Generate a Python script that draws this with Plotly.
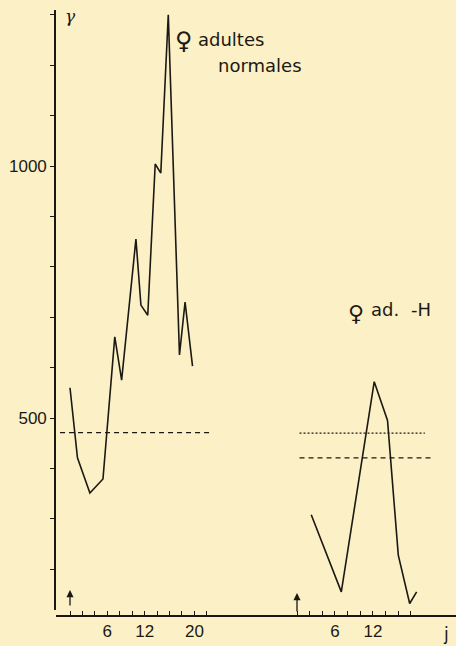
import plotly.graph_objects as go

# ---- data ----
left_days = [0, 1.2, 3.2, 5.3, 7.2, 8.3, 10.6, 11.4, 12.5, 13.7, 14.6, 15.8, 17.1, 17.6, 18.5, 19.7]
left_vals = [560, 421, 351, 379, 661, 575, 855, 724, 704, 1004, 986, 1300, 813, 625, 730, 603]

right_days = [2.25, 7.0, 12.2, 14.3, 16.0, 17.8, 18.9]
right_vals = [308, 155, 572, 495, 228, 132, 155]

left_dash_level = 471
left_dash_span = [-1.6, 23.0]
right_dot_level = 470
right_dot_span = [0.4, 20.2]
right_dash_level = 421
right_dash_span = [0.4, 21.1]

y_tickvals = [200, 300, 400, 500, 600, 700, 800, 900, 1000, 1100, 1200, 1300]
y_ticktext = ["", "", "", "500", "", "", "", "", "1000", "", "", ""]
left_tickvals = list(range(0, 23, 2))
left_ticktext = ["6" if v == 6 else "12" if v == 12 else "20" if v == 20 else "" for v in left_tickvals]
right_tickvals = list(range(0, 19, 2))
right_ticktext = ["6" if v == 6 else "12" if v == 12 else "" for v in right_tickvals]

# ---- layout geometry (pixels) ----
W, H = 456, 646
BG = "#FCF0C6"
INK = "#1b1914"
FONT = "Liberation Sans Narrow, Liberation Sans, DejaVu Sans"

PX_PER_UNIT = 0.504
def v_at(py):
    return 1000 - (py - 166) / PX_PER_UNIT

L_ORIG, L_SCALE = 70.0, 6.22
R_ORIG, R_SCALE = 297.0, 6.33
SPLIT = 250.0
X_AXIS_PY = 616.0

fig = go.Figure()

fig.add_trace(go.Scatter(x=left_days, y=left_vals, mode="lines", xaxis="x", yaxis="y",
                         line=dict(color=INK, width=1.6), showlegend=False))
fig.add_trace(go.Scatter(x=left_dash_span, y=[left_dash_level] * 2, mode="lines", xaxis="x", yaxis="y",
                         line=dict(color=INK, width=1.3, dash="5px,4px"), showlegend=False))
fig.add_trace(go.Scatter(x=right_days, y=right_vals, mode="lines", xaxis="x2", yaxis="y",
                         line=dict(color=INK, width=1.6), showlegend=False))
fig.add_trace(go.Scatter(x=right_dot_span, y=[right_dot_level] * 2, mode="lines", xaxis="x2", yaxis="y",
                         line=dict(color=INK, width=1.3, dash="2px,2px"), showlegend=False))
fig.add_trace(go.Scatter(x=right_dash_span, y=[right_dash_level] * 2, mode="lines", xaxis="x2", yaxis="y",
                         line=dict(color=INK, width=1.3, dash="5px,4px"), showlegend=False))

axis_common = dict(showgrid=False, zeroline=False, showline=True, linecolor=INK, linewidth=1.6,
                   tickcolor=INK, tickwidth=1.2, tickfont=dict(family=FONT, size=17, color=INK))

fig.update_layout(
    width=W, height=H,
    margin=dict(l=0, r=0, t=0, b=0),
    paper_bgcolor=BG, plot_bgcolor=BG,
    xaxis=dict(domain=[56 / W, SPLIT / W],
               range=[(56 - L_ORIG) / L_SCALE, (SPLIT - L_ORIG) / L_SCALE],
               anchor="free", position=1 - X_AXIS_PY / H,
               tickmode="array", tickvals=left_tickvals, ticktext=left_ticktext,
               ticks="inside", ticklen=4, **axis_common),
    xaxis2=dict(domain=[SPLIT / W, 1.0],
                range=[(SPLIT - R_ORIG) / R_SCALE, (W - R_ORIG) / R_SCALE],
                anchor="free", position=1 - X_AXIS_PY / H,
                tickmode="array", tickvals=right_tickvals, ticktext=right_ticktext,
                ticks="inside", ticklen=4, **axis_common),
    yaxis=dict(domain=[1 - 610 / H, 1 - 10 / H],
               range=[v_at(610), v_at(10)],
               anchor="free", position=55 / W,
               tickmode="array", tickvals=y_tickvals, ticktext=y_ticktext,
               ticks="outside", ticklen=4, **axis_common),
)

def txt(s, px, py, size=18, anchor="left", family="DejaVu Sans"):
    fig.add_annotation(text=s, x=px / W, y=1 - py / H, xref="paper", yref="paper",
                       xanchor=anchor, yanchor="middle", showarrow=False,
                       font=dict(family=family, size=size, color=INK))

txt("\u2640", 184, 41, size=24, anchor="center", family="DejaVu Sans, Noto Sans")
txt("adultes", 196, 39)
txt("normales", 216, 66)
txt("\u2640", 356, 313, size=22, anchor="center", family="DejaVu Sans, Noto Sans")
txt("ad.", 369, 309)
txt("-H", 409, 309)
txt("<i>\u03b3</i>", 70, 16, size=17, anchor="center", family="DejaVu Serif")
txt("j", 446, 634, size=17, anchor="center")

# start arrows at day 0
fig.add_annotation(x=0, y=v_at(590), xref="x", yref="y", text="", showarrow=True,
                   ax=0, ay=17, arrowhead=2, arrowsize=1.1, arrowwidth=1.3, arrowcolor=INK)
fig.add_annotation(x=0, y=v_at(593), xref="x2", yref="y", text="", showarrow=True,
                   ax=0, ay=20, arrowhead=2, arrowsize=1.1, arrowwidth=1.3, arrowcolor=INK)

fig.write_html("out.html", config={"displayModeBar": False},
               post_script="document.body.style.margin='0';document.body.style.overflow='hidden';")
